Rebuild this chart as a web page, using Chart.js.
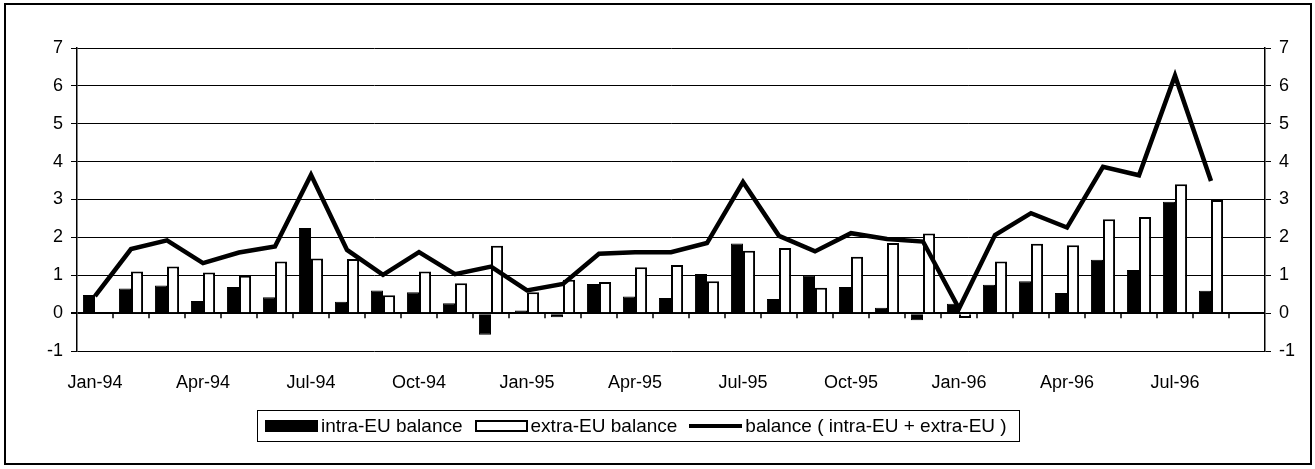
<!DOCTYPE html>
<html>
<head>
<meta charset="utf-8">
<script src="https://cdn.jsdelivr.net/npm/chart.js@4.4.0/dist/chart.umd.min.js"></script>
<style>
  body { margin: 0; background: #fff; font-family: "Liberation Sans", Arial, sans-serif; }
  #wrap { position: relative; width: 1315px; height: 469px; }
  #frame { position: absolute; left: 4px; top: 3px; width: 1304px; height: 458px; border: 2.5px solid #000; pointer-events: none; }
  #legend { position: absolute; left: 257px; top: 410px; width: 761px; height: 30px; border: 1px solid #000;
            display: flex; align-items: center; font-size: 19px; color: #000; white-space: nowrap; }
  .sw { display: inline-block; width: 53px; height: 12px; box-sizing: border-box; margin-right: 3px; }
  .sw.black { background: #000; margin-left: 7px; }
  .sw.white { background: #fff; border: 2px solid #000; margin-left: 12px; }
  .sw.line { height: 4px; background: #000; margin-left: 12px; }
</style>
</head>
<body>
<div id="wrap">
  <canvas id="balanceChart" width="1315" height="469"></canvas>
  <div id="frame"></div>
  <div id="legend">
    <span class="sw black"></span><span>intra-EU balance</span>
    <span class="sw white"></span><span>extra-EU balance</span>
    <span class="sw line"></span><span>balance ( intra-EU + extra-EU )</span>
  </div>
</div>
<script>
const months = [
    'Jan-94', 'Feb-94', 'Mar-94', 'Apr-94', 'May-94', 'Jun-94', 'Jul-94', 'Aug-94', 'Sep-94', 'Oct-94', 'Nov-94', 'Dec-94',
    'Jan-95', 'Feb-95', 'Mar-95', 'Apr-95', 'May-95', 'Jun-95', 'Jul-95', 'Aug-95', 'Sep-95', 'Oct-95', 'Nov-95', 'Dec-95',
    'Jan-96', 'Feb-96', 'Mar-96', 'Apr-96', 'May-96', 'Jun-96', 'Jul-96', 'Aug-96', 'Sep-96'
];

const intraEU = [
    0.48, 0.65, 0.73, 0.32, 0.69, 0.42, 2.25, 0.30, 0.60, 0.55, 0.26, -0.57,
    0.07, -0.11, 0.77, 0.44, 0.40, 1.03, 1.84, 0.37, 1.00, 0.69, 0.14, -0.19,
    0.25, 0.75, 0.84, 0.53, 1.41, 1.14, 2.94, 0.59, null
];

const extraEU = [
    -0.03, 1.10, 1.23, 1.07, 0.99, 1.36, 1.44, 1.43, 0.47, 1.10, 0.79, 1.78,
    0.55, 0.88, 0.82, 1.21, 1.27, 0.84, 1.65, 1.72, 0.67, 1.49, 1.85, 2.10,
    -0.13, 1.36, 1.83, 1.79, 2.48, 2.54, 3.40, 2.99, null
];

const balance = [
    0.45, 1.69, 1.92, 1.32, 1.60, 1.76, 3.65, 1.67, 1.01, 1.61, 1.03, 1.23,
    0.60, 0.77, 1.57, 1.61, 1.61, 1.85, 3.46, 2.04, 1.63, 2.11, 1.96, 1.89,
    0.12, 2.06, 2.64, 2.26, 3.86, 3.64, 6.27, 3.49, null
];

const yMin = -1;
const yMax = 7;
const fontSpec = { family: '"Liberation Sans", Arial, sans-serif', size: 18 };

// small tick marks on the zero line between the months
const zeroTicks = {
    id: 'zeroTicks',
    afterDatasetsDraw(chart) {
        const x = chart.scales.x;
        const y0 = chart.scales.y.getPixelForValue(0);
        const step = x.width / months.length;
        const ctx = chart.ctx;
        ctx.save();
        ctx.strokeStyle = '#000';
        ctx.lineWidth = 1.5;
        ctx.beginPath();
        for (let i = 1; i < months.length; i++) {
            const px = x.getPixelForValue(i) - step / 2;
            ctx.moveTo(px, y0);
            ctx.lineTo(px, y0 + 5);
        }
        ctx.stroke();
        ctx.restore();
    }
};

const ctx = document.getElementById('balanceChart').getContext('2d');
new Chart(ctx, {
    type: 'bar',
    data: {
        labels: months,
        datasets: [
            {
                type: 'line',
                label: 'balance ( intra-EU + extra-EU )',
                data: balance,
                borderColor: '#000',
                backgroundColor: '#000',
                borderWidth: 4.5,
                pointRadius: 0,
                tension: 0,
                borderJoinStyle: 'miter',
                order: 0
            },
            {
                label: 'intra-EU balance',
                data: intraEU,
                backgroundColor: '#000',
                borderColor: '#000',
                borderWidth: 1,
                categoryPercentage: 0.67,
                barPercentage: 1.0,
                order: 1
            },
            {
                label: 'extra-EU balance',
                data: extraEU,
                backgroundColor: '#fff',
                borderColor: '#000',
                borderWidth: 2,
                categoryPercentage: 0.67,
                barPercentage: 1.0,
                order: 2
            }
        ]
    },
    options: {
        responsive: false,
        animation: false,
        layout: { padding: { top: 48, bottom: 60, left: 0, right: 0 } },
        plugins: {
            legend: { display: false },
            tooltip: { enabled: false }
        },
        scales: {
            x: {
                grid: { display: false },
                border: { display: false },
                ticks: {
                    color: '#000',
                    font: fontSpec,
                    autoSkip: false,
                    maxRotation: 0,
                    padding: 13,
                    callback: function (val, i) { return i % 3 === 0 ? months[i] : ''; }
                },
                afterFit: function (s) { s.height = 58; }
            },
            y: {
                min: yMin,
                max: yMax,
                ticks: { stepSize: 1, color: '#000', font: fontSpec, padding: 8 },
                grid: {
                    color: '#000',
                    lineWidth: c => (c.tick && c.tick.value === 0 ? 2 : 1),
                    tickLength: 6
                },
                border: { color: '#000', width: 1.5 },
                afterFit: function (s) { s.width = 77; }
            },
            y2: {
                position: 'right',
                min: yMin,
                max: yMax,
                ticks: { stepSize: 1, color: '#000', font: fontSpec, padding: 8 },
                grid: { drawOnChartArea: false, color: '#000', tickLength: 6 },
                border: { color: '#000', width: 1.5 },
                afterFit: function (s) { s.width = 50; }
            }
        }
    },
    plugins: [zeroTicks]
});
</script>
</body>
</html>
